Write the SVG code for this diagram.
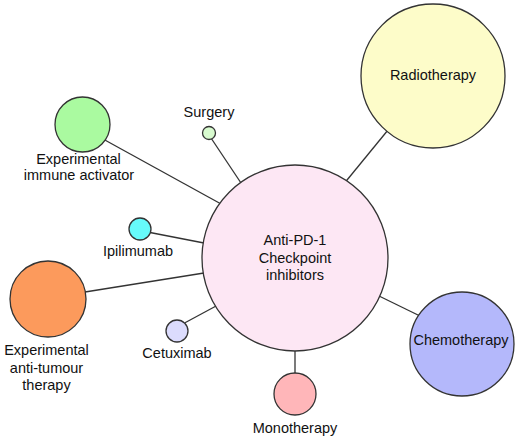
<svg xmlns="http://www.w3.org/2000/svg" width="517" height="440" viewBox="0 0 517 440">
<style>
.n{stroke:#333;stroke-width:1.3}
.c line{stroke:#333;stroke-width:1.3}
text{font-family:"Liberation Sans",Arial,sans-serif;font-size:14.5px;fill:#111;text-anchor:middle}
</style>
<rect width="517" height="440" fill="#fff"/>
<g id="connectors" class="c">
<line x1="103" y1="139" x2="222" y2="204.5"/>
<line x1="211" y1="138" x2="241" y2="183"/>
<line x1="150" y1="232.5" x2="204" y2="243"/>
<line x1="85" y1="292" x2="204" y2="273"/>
<line x1="185" y1="322.7" x2="217" y2="305.5"/>
<line x1="295" y1="349" x2="295" y2="374"/>
<line x1="388" y1="130" x2="345" y2="182.5"/>
<line x1="378" y1="295.5" x2="420" y2="316"/>
</g>
<g id="main">
<circle class="n" cx="295" cy="258" r="93" fill="#fde7f4"/>
<text x="295" y="245">Anti-PD-1</text>
<text x="295" y="262.5">Checkpoint</text>
<text x="295" y="280">inhibitors</text>
</g>
<g id="radiotherapy">
<circle class="n" cx="433" cy="76" r="72" fill="#fdfcc9"/>
<text x="433" y="80">Radiotherapy</text>
</g>
<g id="chemotherapy">
<circle class="n" cx="462" cy="344" r="52" fill="#b4b8fb"/>
<text x="461" y="345">Chemotherapy</text>
</g>
<g id="monotherapy">
<circle class="n" cx="295" cy="394" r="21" fill="#ffb6b9"/>
<text x="295" y="433">Monotherapy</text>
</g>
<g id="cetuximab">
<circle class="n" cx="177" cy="331" r="11" fill="#dcdcfd"/>
<text x="177" y="358">Cetuximab</text>
</g>
<g id="antitumour">
<circle class="n" cx="48" cy="299" r="38" fill="#fc9a5c"/>
<text x="46.5" y="355">Experimental</text>
<text x="46.5" y="372.5">anti-tumour</text>
<text x="46.5" y="390">therapy</text>
</g>
<g id="ipilimumab">
<circle class="n" cx="140" cy="229" r="11" fill="#66fbfb"/>
<text x="138" y="256">Ipilimumab</text>
</g>
<g id="immune">
<circle class="n" cx="82.5" cy="124.5" r="27.5" fill="#aafaa0"/>
<text x="78.5" y="163.5">Experimental</text>
<text x="79" y="180">immune activator</text>
</g>
<g id="surgery">
<circle class="n" cx="209" cy="133" r="6.5" fill="#d8fbcf"/>
<text x="209" y="117">Surgery</text>
</g>
</svg>
